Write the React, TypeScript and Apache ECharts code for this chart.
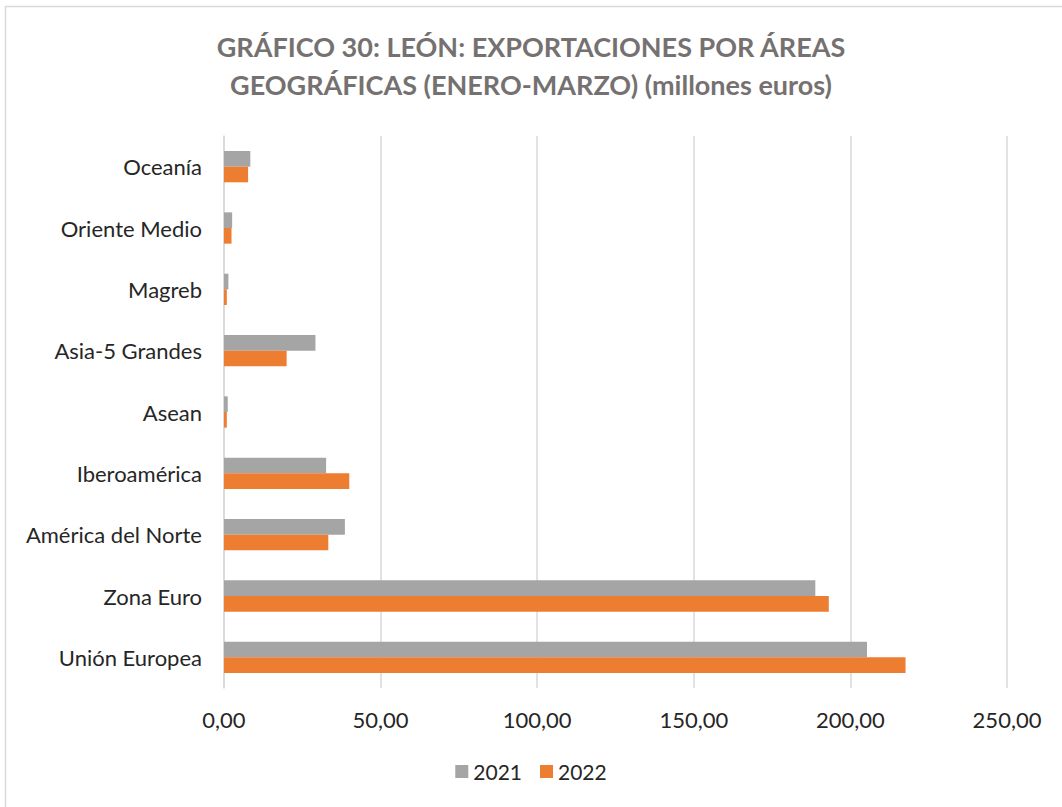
import React, { useEffect, useRef } from "react";
import * as echarts from "echarts";

const categories = [
  "Unión Europea",
  "Zona Euro",
  "América del Norte",
  "Iberoamérica",
  "Asean",
  "Asia-5 Grandes",
  "Magreb",
  "Oriente Medio",
  "Oceanía",
];
const values2021 = [205.3, 188.8, 38.6, 32.6, 1.2, 29.2, 1.4, 2.6, 8.4];
const values2022 = [217.6, 193.1, 33.3, 40.0, 0.9, 20.0, 0.9, 2.4, 7.7];
const seriesNames = ["2021", "2022"];
const xTicks = [0, 50, 100, 150, 200, 250];

const FONT = "Lato";

export default function App() {
  const ref = useRef<HTMLDivElement>(null);
  useEffect(() => {
    if (!ref.current) return;
    const chart = echarts.init(ref.current, undefined, { renderer: "svg" });
    chart.setOption({
      animation: false,
      backgroundColor: "#ffffff",
      textStyle: { fontFamily: FONT },
      title: {
        text: "GRÁFICO 30: LEÓN: EXPORTACIONES POR ÁREAS\nGEOGRÁFICAS (ENERO-MARZO) (millones euros)",
        left: "center",
        top: 22,
        textStyle: {
          fontFamily: FONT,
          fontSize: 27,
          fontWeight: "bold",
          color: "#767171",
          lineHeight: 38,
          align: "center",
        },
      },
      graphic: [
        {
          type: "rect",
          shape: { x: 5.5, y: 6.5, width: 1080, height: 820 },
          style: { fill: "none", stroke: "#D9D9D9", lineWidth: 1.5 },
          silent: true,
        },
      ],
      legend: {
        data: seriesNames,
        bottom: 20,
        left: "center",
        itemWidth: 13,
        itemHeight: 13,
        itemGap: 18,
        icon: "rect",
        textStyle: { fontFamily: FONT, fontSize: 21, color: "#262626" },
      },
      grid: { left: 224, right: 55, top: 136, bottom: 119, containLabel: false },
      xAxis: {
        type: "value",
        min: xTicks[0],
        max: xTicks[xTicks.length - 1],
        interval: 50,
        axisLine: { show: false },
        axisTick: { show: false },
        splitLine: { lineStyle: { color: "#D9D9D9", width: 1.5 } },
        axisLabel: {
          fontFamily: FONT,
          fontSize: 22,
          color: "#262626",
          margin: 20,
          formatter: (v: number) => v.toFixed(2).replace(".", ","),
        },
      },
      yAxis: {
        type: "category",
        data: categories,
        axisLine: { show: true, lineStyle: { color: "#D9D9D9", width: 1.5 } },
        axisTick: { show: false },
        axisLabel: { fontFamily: FONT, fontSize: 22, color: "#262626", margin: 22 },
      },
      series: [
        {
          name: seriesNames[0],
          type: "bar",
          data: values2021,
          itemStyle: { color: "#A5A5A5" },
          barGap: "0%",
          barCategoryGap: "49%",
        },
        {
          name: seriesNames[1],
          type: "bar",
          data: values2022,
          itemStyle: { color: "#ED7D31" },
          barGap: "0%",
          barCategoryGap: "49%",
        },
      ],
    });
    return () => chart.dispose();
  }, []);
  return (
    <div
      ref={ref}
      style={{ position: "fixed", left: 0, top: 0, width: 1062, height: 807 }}
    />
  );
}
